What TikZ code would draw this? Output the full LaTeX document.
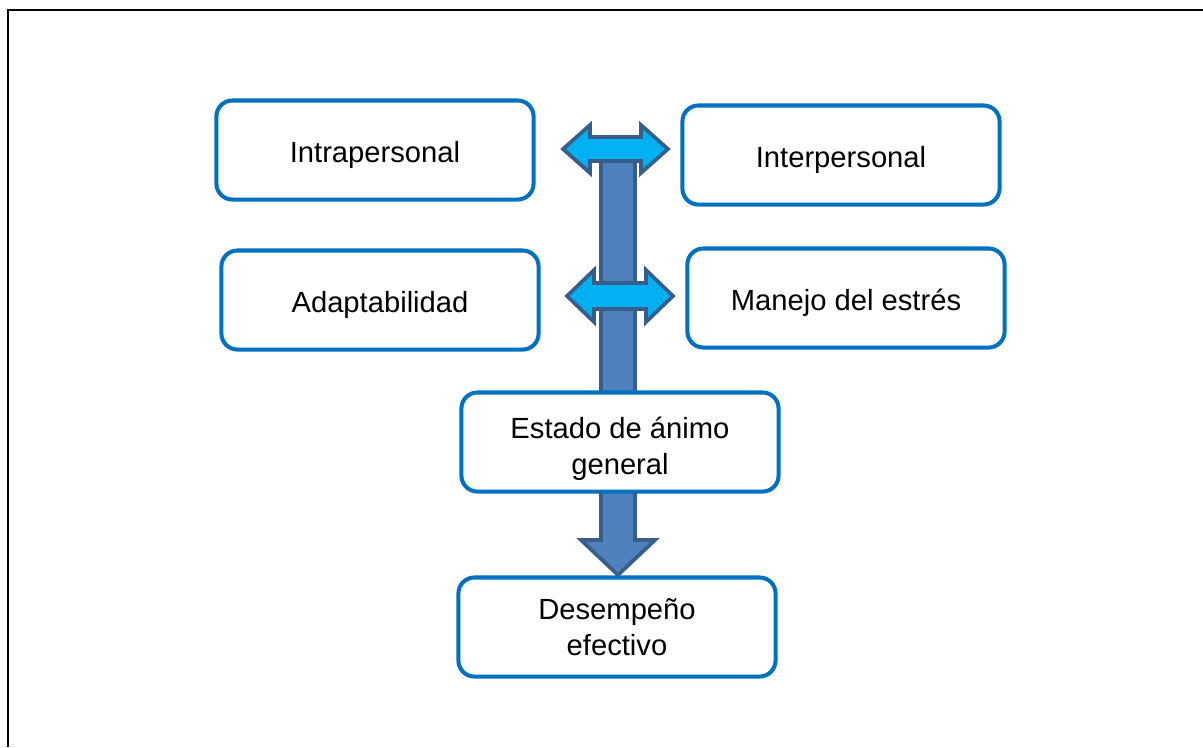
\documentclass[tikz,border=0pt]{standalone}
\usepackage{fontspec}
\setmainfont{Liberation Sans}
\usepackage{tikz}
\usetikzlibrary{calc, positioning}

\definecolor{boxblue}{RGB}{0,112,192}
\definecolor{shaftblue}{RGB}{79,129,189}
\definecolor{edgeblue}{RGB}{56,93,138}
\definecolor{skyblue}{RGB}{0,176,240}

\newcommand{\toprule}{\rule{0pt}{10pt}}

\begin{document}
\begin{tikzpicture}[x=0.01cm, y=-0.01cm,
    factor/.style={draw=boxblue, line width=1.15pt, rounded corners=0.16cm, fill=white,
        minimum width=3.17cm, minimum height=0.99cm, align=center, inner ysep=0.5pt,
        font=\fontsize{8.3}{10.2}\selectfont,
        execute at begin node={\rule{0pt}{9pt}}},
    bigarrow/.style={draw=edgeblue, line width=1.05pt, fill=shaftblue, line join=miter},
    sidearrow/.style={draw=edgeblue, line width=1.05pt, fill=skyblue, line join=miter}]
    \useasboundingbox (0,0) rectangle (1203,747);
    \draw[line width=0.7pt] (8,747) -- (8,10) -- (1203,10);

    % vertical arrow down to the result
    \draw[bigarrow] (601,158) -- (635,158) -- (635,540) -- (655,540) -- (618,575)
        -- (581,540) -- (601,540) -- cycle;

    % two-way arrows
    \draw[sidearrow] (563,149) -- (590,125) -- (590,137) -- (641,137) -- (641,125)
        -- (668,149) -- (641,173) -- (641,161) -- (590,161) -- (590,173) -- cycle;
    \draw[sidearrow] (567,296) -- (594,270) -- (594,283) -- (646,283) -- (646,270)
        -- (673,296) -- (646,322) -- (646,309) -- (594,309) -- (594,322) -- cycle;

    % boxes
    \node[factor] (intra) at (375,150) {Intrapersonal};
    \node[factor] (inter) at (841,155) {Interpersonal};
    \node[factor] (adapt) at (380,300) {Adaptabilidad};
    \node[factor] (estres) at (846,298) {Manejo del estrés};
    \node[factor] (animo) at (620,442) {\toprule Estado de ánimo\\general};
    \node[factor] (desempeno) at (617,627) {Desempeño\\efectivo};
\end{tikzpicture}
\end{document}
